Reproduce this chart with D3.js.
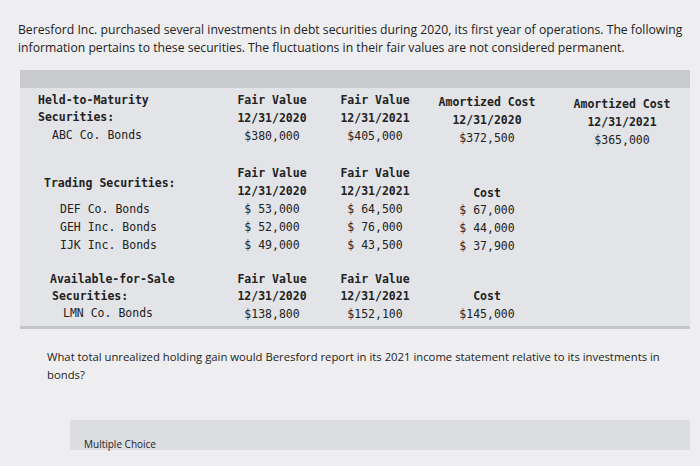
<!DOCTYPE html>
<html><head><meta charset="utf-8">
<script src="https://cdn.jsdelivr.net/npm/d3@7"></script>
<style>body{margin:0;background:#eeeef0}</style></head>
<body><svg id="c" width="700" height="466"></svg>
<script>
const intro = ["Beresford Inc. purchased several investments in debt securities during 2020, its first year of operations. The following",
 "information pertains to these securities. The fluctuations in their fair values are not considered permanent."];
const question = ["What total unrealized holding gain would Beresford report in its 2021 income statement relative to its investments in","bonds?"];
const columns = ["fv2020","fv2021","ac2020","ac2021"];
const htmHeaders = [["Fair Value","12/31/2020"],["Fair Value","12/31/2021"],["Amortized Cost","12/31/2020"],["Amortized Cost","12/31/2021"]];
const htmRow = ["$380,000","$405,000","$372,500","$365,000"];
const tradingHeaders = [["Fair Value","12/31/2020"],["Fair Value","12/31/2021"],["","Cost"]];
const tradingNames = ["DEF Co. Bonds","GEH Inc. Bonds","IJK Inc. Bonds"];
const tradingFV2020 = ["$ 53,000","$ 52,000","$ 49,000"];
const tradingFV2021 = ["$ 64,500","$ 76,000","$ 43,500"];
const tradingCost = ["$ 67,000","$ 44,000","$ 37,900"];
const afsHeaders = [["Fair Value","12/31/2020"],["Fair Value","12/31/2021"],["","Cost"]];
const afsRow = ["$138,800","$152,100","$145,000"];

const svg = d3.select("#c");
const mono = "'DejaVu Sans Mono', monospace";
const sans = "'Open Sans', sans-serif";
const col = d3.scaleOrdinal().domain([0,1,2,3]).range([272,375,487,622]);
function t(x,y,s,o={}){svg.append("text").attr("x",x).attr("y",y).text(s)
 .attr("font-family",o.f||mono).attr("font-size",o.s||11.5).attr("font-weight",o.b?"bold":"normal")
 .attr("text-anchor",o.a||"start").attr("fill",o.c||"#222");}
svg.append("rect").attr("x",20).attr("y",70).attr("width",670).attr("height",258).attr("fill","#e3e4e7");
svg.append("rect").attr("x",20).attr("y",70).attr("width",670).attr("height",18).attr("fill","#c9cacd");
svg.append("rect").attr("x",20).attr("y",326).attr("width",670).attr("height",3).attr("fill","#c5c6c9");
intro.forEach((s,i)=>t(18,34+i*18,s,{f:sans,s:12.2}));
question.forEach((s,i)=>t(47,361+i*18,s,{f:sans,s:11.3}));
svg.append("rect").attr("x",70).attr("y",420).attr("width",620).attr("height",30).attr("fill","#dcdde0");
t(84,448,"Multiple Choice",{f:sans,s:10});
// HTM
t(38,104,"Held-to-Maturity",{b:1}); t(38,121,"Securities:",{b:1}); t(52,139,"ABC Co. Bonds");
htmHeaders.forEach((h,i)=>{const dy=i>=2?2+(i-2)*2:0; const x=col(i);
 t(x,104+dy,h[0],{b:1,a:"middle"}); t(x,122+dy,h[1],{b:1,a:"middle"}); t(x,140+dy,htmRow[i],{a:"middle"});});
// Trading
t(44,187,"Trading Securities:",{b:1});
tradingHeaders.forEach((h,i)=>{const dy=i==2?2:0; const x=col(i);
 if(h[0]) t(x,177+dy,h[0],{b:1,a:"middle"}); t(x,195+dy,h[1],{b:1,a:"middle"});});
tradingNames.forEach((n,j)=>{const y=213+j*18; t(60,y,n);
 [tradingFV2020,tradingFV2021,tradingCost].forEach((a,i)=>t(col(i),y+(i==2?1:0),a[j],{a:"middle"}));});
// AFS
t(50,283,"Available-for-Sale",{b:1}); t(52,300,"Securities:",{b:1}); t(63,317,"LMN Co. Bonds");
afsHeaders.forEach((h,i)=>{const x=col(i); if(h[0]) t(x,283,h[0],{b:1,a:"middle"}); t(x,300,h[1],{b:1,a:"middle"}); t(x,318,afsRow[i],{a:"middle"});});
</script></body></html>
